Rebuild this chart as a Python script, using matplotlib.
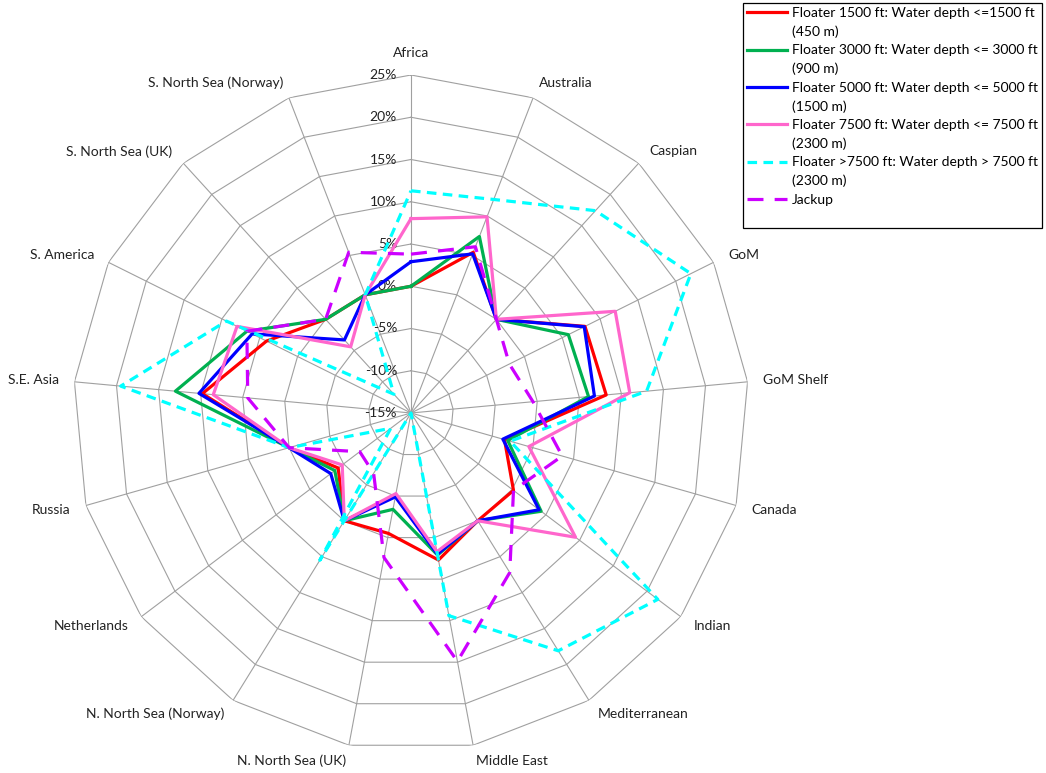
import matplotlib.pyplot as plt
from matplotlib.lines import Line2D
import numpy as np

plt.rcParams['font.family'] = ['Lato', 'DejaVu Sans']
plt.rcParams['font.size'] = 10

# rig count change by region, in percent
regions = ["Africa", "Australia", "Caspian", "GoM", "GoM Shelf", "Canada", "Indian",
           "Mediterranean", "Middle East", "N. North Sea (UK)", "N. North Sea (Norway)",
           "Netherlands", "Russia", "S.E. Asia", "S. America", "S. North Sea (UK)",
           "S. North Sea (Norway)"]

floater_1500 = [0.0, 5.4, 0.0, 8.0, 8.2, -3.5, 0.2, 0.0, 2.7, -0.5, 0.0, -4.2, 0.0, 9.8, 4.1, 0.0, 0.0]
floater_3000 = [0.0, 7.4, 0.0, 5.8, 6.1, -3.1, 4.3, 0.0, 2.1, -3.4, 0.0, -3.7, 0.0, 13.0, 6.7, 0.0, 0.0]
floater_5000 = [2.9, 5.2, 0.0, 7.9, 6.8, -3.7, 4.0, 0.0, 2.0, -4.9, 0.0, -3.1, 0.0, 10.2, 6.0, -3.3, 0.0]
floater_7500 = [8.0, 9.9, 0.0, 12.0, 11.0, -0.5, 9.4, 0.0, 1.7, -5.3, 0.0, -4.8, 0.0, 8.5, 8.0, -4.4, 0.0]
floater_deep = [11.3, 12.1, 17.4, 22.0, 13.0, -2.8, 21.6, 18.1, 9.4, -15.0, 5.5, -12.0, 0.0, 19.5, 9.4, -12.0, 0.0]
jackup = [3.8, 6.1, 0.0, -2.0, -0.5, 3.6, 0.2, 7.2, 14.9, 2.4, -6.6, -7.4, 0.0, 4.4, 6.7, 0.0, 5.4]

ring_levels = [-15, -10, -5, 0, 5, 10, 15, 20, 25]

series = [
    (floater_1500, "#FF0000", "-", ["Floater 1500 ft: Water depth <=1500 ft", "(450 m)"]),
    (floater_3000, "#00B050", "-", ["Floater 3000 ft: Water depth <= 3000 ft", "(900 m)"]),
    (floater_5000, "#0000FF", "-", ["Floater 5000 ft: Water depth <= 5000 ft", "(1500 m)"]),
    (floater_7500, "#FF66CC", "-", ["Floater 7500 ft: Water depth <= 7500 ft", "(2300 m)"]),
    (floater_deep, "#00FFFF", (0, (3, 2)), ["Floater >7500 ft: Water depth > 7500 ft", "(2300 m)"]),
    (jackup, "#CC00FF", (0, (5, 3.5)), ["Jackup"]),
]

grid_color = "#A0A0A0"

fig = plt.figure(figsize=(10.46, 7.73), dpi=100)
ax = fig.add_axes([73 / 1046, 22 / 773, 676 / 1046, 676 / 773], projection='polar')
ax.set_theta_zero_location('N')
ax.set_theta_direction(-1)
ax.set_ylim(ring_levels[0], ring_levels[-1])
ax.grid(False)
ax.set_xticks([])
ax.set_yticks([])
ax.spines['polar'].set_visible(False)
ax.patch.set_visible(False)

n = len(regions)
angles = np.linspace(0, 2 * np.pi, n, endpoint=False)
closed = np.append(angles, 2 * np.pi)

# polygon web
for lvl in ring_levels[1:]:
    ax.plot(closed, [lvl] * (n + 1), color=grid_color, lw=0.8, zorder=1)
for a in angles:
    ax.plot([a, a], [ring_levels[0], ring_levels[-1]], color=grid_color, lw=0.8, zorder=1)

for lvl in ring_levels:
    ax.annotate(f"{lvl}%", xy=(0, lvl), xytext=(-14, 0), textcoords='offset pixels',
                ha='right', va='center', color='#222222')

for a, name in zip(angles, regions):
    s, c = np.sin(a), np.cos(a)
    if abs(s) < 0.05:
        ax.annotate(name, xy=(a, ring_levels[-1]), xytext=(0, 16), textcoords='offset pixels',
                    ha='center', va='bottom', color='#222222')
    else:
        ax.annotate(name, xy=(a, ring_levels[-1]), xytext=(16 * s, 16 * c),
                    textcoords='offset pixels', ha='left' if s > 0 else 'right',
                    va='center', color='#222222')

handles = []
labels = []
for values, color, ls, text in series:
    line, = ax.plot(closed, values + values[:1], color=color, ls=ls, lw=2.3, zorder=3)
    handles.append(line)
    labels.append(text[0])
    for extra in text[1:]:
        handles.append(Line2D([], [], color='none'))
        labels.append(extra)
handles.append(Line2D([], [], color='none'))
labels.append(" ")

leg = ax.legend(handles, labels, loc='upper left',
                bbox_to_anchor=(743 / 1046, 1 - 3 / 773, 299 / 1046, 0),
                bbox_transform=fig.transFigure, mode='expand', borderaxespad=0,
                fancybox=False, edgecolor='black', framealpha=1, handlelength=2.9,
                handletextpad=0.35, labelspacing=0.46, borderpad=0.3)
leg.get_frame().set_linewidth(0.9)

fig.savefig("out.png", dpi=100)
